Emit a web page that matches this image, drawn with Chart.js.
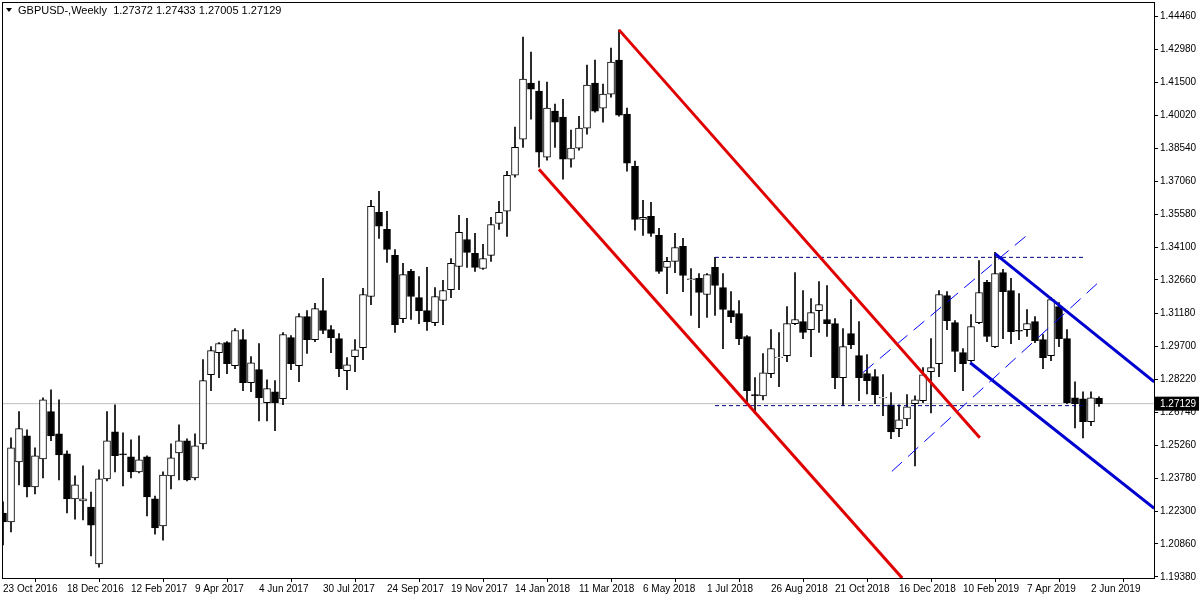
<!DOCTYPE html>
<html>
<head>
<meta charset="utf-8">
<script src="https://cdn.jsdelivr.net/npm/chart.js@4/dist/chart.umd.min.js"></script>
<style>
  html, body { margin:0; padding:0; background:#fff; }
  #wrap { width:1200px; height:600px; position:relative; }
</style>
</head>
<body>
<div id="wrap"><canvas id="c" width="1200" height="600"></canvas></div>
<script>
// ---------- Data (weekly GBPUSD) ----------
const opens = [
  1.2224,1.2184,1.2453,1.2569,1.2341,1.2466,1.2677,1.2578,1.2489,1.2287,
  1.2278,1.2251,1.1996,1.2377,1.2587,1.2489,1.2475,1.2408,1.2475,1.2287,
  1.2166,1.2390,1.2493,1.2547,1.2381,1.2533,1.2842,1.2941,1.2986,1.2883,
  1.2999,1.2807,1.2865,1.2717,1.2766,1.2735,1.3008,1.2883,1.3102,1.2999,
  1.3129,1.3044,1.3004,1.2860,1.2923,1.2963,1.3192,1.3568,1.3492,1.3376,
  1.3093,1.3304,1.3187,1.3129,1.3075,1.3174,1.3223,1.3326,1.3447,1.3385,
  1.3317,1.3376,1.3519,1.3573,1.3734,1.3895,1.4146,1.4110,1.3815,1.4021,
  1.3994,1.3806,1.3855,1.3945,1.4146,1.4034,1.4097,1.4249,1.4007,1.3774,
  1.3537,1.3550,1.3465,1.3322,1.3349,1.3416,1.3268,1.3273,1.3201,1.3322,
  1.3232,1.3129,1.3116,1.3013,1.2753,1.2748,1.2847,1.2919,1.2928,1.3071,
  1.3080,1.3044,1.3129,1.3089,1.3071,1.2829,1.3026,1.2928,1.2847,1.2834,
  1.2739,1.2708,1.2601,1.2645,1.2713,1.2726,1.2856,1.2892,1.3196,1.3075,
  1.2941,1.2905,1.3075,1.3255,1.2968,1.3299,1.3219,1.3040,1.3044,1.3080,
  1.2999,1.2928,1.3147,1.3004,1.2739,1.2735,1.2632,1.27372
];
const highs = [
  1.2274,1.2560,1.2677,1.2596,1.2515,1.2739,1.2775,1.2730,1.2502,1.2390,
  1.2435,1.2318,1.2417,1.2677,1.2708,1.2583,1.2551,1.2569,1.2480,1.2300,
  1.2408,1.2533,1.2618,1.2556,1.2578,1.2910,1.2968,1.2986,1.2990,1.3049,
  1.3044,1.2923,1.2982,1.2820,1.2816,1.3031,1.3017,1.3116,1.3129,1.3161,
  1.3273,1.3062,1.3026,1.2919,1.2999,1.3228,1.3622,1.3662,1.3573,1.3402,
  1.3340,1.3313,1.3281,1.3322,1.3232,1.3264,1.3362,1.3555,1.3541,1.3474,
  1.3425,1.3546,1.3618,1.3752,1.3949,1.4352,1.4285,1.4155,1.4151,1.4052,
  1.4074,1.3936,1.3998,1.4227,1.4249,1.4142,1.4303,1.4384,1.4034,1.3797,
  1.3622,1.3613,1.3497,1.3367,1.3474,1.3452,1.3317,1.3295,1.3295,1.3367,
  1.3295,1.3214,1.3174,1.3017,1.2829,1.2937,1.3044,1.3031,1.3147,1.3299,
  1.3219,1.3183,1.3259,1.3241,1.3093,1.3049,1.3178,1.3080,1.2932,1.2865,
  1.2843,1.2762,1.2708,1.2753,1.2748,1.2874,1.3004,1.3219,1.3214,1.3084,
  1.2959,1.3111,1.3353,1.3264,1.3389,1.3313,1.3273,1.3205,1.3134,1.3102,
  1.3022,1.3187,1.3165,1.3044,1.2811,1.2766,1.2766,1.27433
];
const lows = [
  1.2081,1.2139,1.2350,1.2296,1.2309,1.2381,1.2547,1.2372,1.2224,1.2197,
  1.2193,1.2032,1.1982,1.2368,1.2408,1.2345,1.2381,1.2403,1.2211,1.2130,
  1.2103,1.2332,1.2372,1.2368,1.2372,1.2511,1.2771,1.2829,1.2847,1.2869,
  1.2771,1.2766,1.2636,1.2636,1.2592,1.2708,1.2865,1.2811,1.2937,1.2990,
  1.3026,1.2941,1.2834,1.2775,1.2856,1.2910,1.3156,1.3452,1.3344,1.3031,
  1.3075,1.3089,1.3071,1.3040,1.3062,1.3066,1.3187,1.3223,1.3322,1.3304,
  1.3313,1.3349,1.3492,1.3461,1.3725,1.3859,1.3985,1.3770,1.3801,1.3859,
  1.3716,1.3770,1.3846,1.3918,1.4016,1.3971,1.4083,1.3998,1.3752,1.3488,
  1.3465,1.3461,1.3295,1.3205,1.3299,1.3214,1.3107,1.3053,1.3098,1.3107,
  1.2959,1.3075,1.2977,1.2713,1.2668,1.2730,1.2829,1.2789,1.2901,1.3066,
  1.3004,1.2923,1.3031,1.3013,1.2780,1.2704,1.2959,1.2726,1.2757,1.2713,
  1.2659,1.2556,1.2565,1.2614,1.2435,1.2717,1.2672,1.2834,1.3044,1.2856,
  1.2771,1.2901,1.3071,1.2990,1.2963,1.3004,1.2981,1.2999,1.3013,1.2986,
  1.2869,1.2905,1.2968,1.2713,1.2605,1.2560,1.2614,1.27005
];
const closes = [
  1.2184,1.2515,1.2601,1.2341,1.2480,1.2730,1.2569,1.2484,1.2287,1.2350,
  1.2287,1.2170,1.2377,1.2547,1.2480,1.2484,1.2408,1.2462,1.2296,1.2157,
  1.2394,1.2471,1.2547,1.2372,1.2524,1.2816,1.2950,1.2982,1.2892,1.3040,
  1.2807,1.2896,1.2739,1.2780,1.2717,1.3022,1.2892,1.3102,1.2999,1.3138,
  1.3040,1.3008,1.2869,1.2887,1.2954,1.3201,1.3595,1.3506,1.3402,1.3066,
  1.3290,1.3192,1.3129,1.3080,1.3192,1.3219,1.3340,1.3479,1.3389,1.3322,
  1.3362,1.3514,1.3568,1.3734,1.3859,1.4164,1.4119,1.3837,1.4034,1.3971,
  1.3806,1.3855,1.3945,1.4137,1.4021,1.4097,1.4240,1.4003,1.3788,1.3537,
  1.3546,1.3474,1.3304,1.3349,1.3411,1.3286,1.3270,1.3210,1.3290,1.3241,
  1.3134,1.3102,1.3004,1.2771,1.2748,1.2851,1.2959,1.2921,1.3071,1.3089,
  1.3031,1.3120,1.3156,1.3071,1.2829,1.2968,1.2977,1.2829,1.2816,1.2753,
  1.2741,1.2587,1.2641,1.2699,1.2730,1.2842,1.2874,1.3201,1.3084,1.2946,
  1.2892,1.3058,1.3210,1.3013,1.3295,1.3214,1.3035,1.3038,1.3071,1.2995,
  1.2919,1.3178,1.3004,1.2717,1.2713,1.2632,1.2739,1.27129
];

// x tick labels: every 8th weekly bar starting at bar 0
const dateLabels = ['23 Oct 2016','18 Dec 2016','12 Feb 2017','9 Apr 2017','4 Jun 2017','30 Jul 2017',
  '24 Sep 2017','19 Nov 2017','14 Jan 2018','11 Mar 2018','6 May 2018','1 Jul 2018','26 Aug 2018',
  '21 Oct 2018','16 Dec 2018','10 Feb 2019','7 Apr 2019','2 Jun 2019'];
const LABEL_STEP = 8;
const priceTicks = ['1.44460','1.42980','1.41500','1.40020','1.38540','1.37060','1.35580','1.34100',
  '1.32660','1.31180','1.29700','1.28220','1.26740','1.25260','1.23780','1.22300','1.20860','1.19380'];
const lastPrice = 1.27129;
const titleText = 'GBPUSD-,Weekly  1.27372 1.27433 1.27005 1.27129';

// drawn objects: [barIndex, price] endpoints
const redUpper = [[77, 1.4384], [122.1, 1.2560]];
const redLower = [[67, 1.3761], [112.4, 1.1933]];
const blueUpper = [[124, 1.3384], [143.9, 1.2810]];
const blueLower = [[120.9, 1.2896], [143.9, 1.2245]];
const resistance = [[89, 1.3367], [135, 1.3367]];
const support = [[89, 1.2704], [135, 1.2704]];
const chanA = [[107.5, 1.2852], [128.4, 1.3478]];
const chanB = [[111.1, 1.2410], [136.9, 1.3254]];

const X_MIN = -0.125, X_MAX = 143.875;
const Y_MIN = 1.19335, Y_MAX = 1.45086;
const FONT = '"Liberation Sans", Arial, sans-serif';

// ---------- Build datasets ----------
const idx = closes.map((_, i) => i);
const bodies = idx.map(i => {
  let o = opens[i], c = closes[i];
  if (Math.abs(o - c) < 0.0003) { const m = (o + c) / 2; o = m - 0.00015; c = m + 0.00015; }
  return { x: i, y: [o, c] };
});
const bodyFill = idx.map(i => closes[i] < opens[i] ? '#000' : '#fff');
const wicks = idx.map(i => ({ x: i, y: [lows[i], highs[i]] }));
const seg = (pts) => pts.map(p => ({ x: p[0], y: p[1] }));

function lineDs(pts, color, width, dash, order) {
  return { type:'line', data: seg(pts), borderColor: color, borderWidth: width, borderDash: dash || [],
    pointRadius: 0, fill: false, tension: 0, order };
}

const framePlugin = {
  id: 'frame',
  afterDraw(chart) {
    const { ctx, chartArea: a, scales } = chart;
    ctx.save();
    ctx.strokeStyle = '#000'; ctx.lineWidth = 1;
    ctx.strokeRect(a.left + 0.5, a.top + 0.5, a.right - a.left, a.bottom - a.top);
    // title
    ctx.font = '11px ' + FONT; ctx.fillStyle = '#000'; ctx.textBaseline = 'middle';
    ctx.beginPath(); ctx.moveTo(6, 8); ctx.lineTo(12, 8); ctx.lineTo(9, 12); ctx.closePath(); ctx.fill();
    ctx.fillText(titleText, 18, 11);
    // last price box
    const y = scales.y.getPixelForValue(lastPrice);
    ctx.fillStyle = '#000';
    ctx.fillRect(a.right + 1, y - 7, 44, 14);
    ctx.fillStyle = '#fff'; ctx.textAlign = 'left'; ctx.font = '10px ' + FONT;
    ctx.fillText(lastPrice.toFixed(5), a.right + 6, y + 1);
    ctx.restore();
  }
};

new Chart(document.getElementById('c'), {
  type: 'bar',
  data: {
    datasets: [
      lineDs(redUpper, '#e00000', 3, null, -1),
      lineDs(redLower, '#e00000', 3, null, -1),
      lineDs(blueUpper, '#0000d0', 3, null, -1),
      lineDs(blueLower, '#0000d0', 3, null, -1),
      lineDs(resistance, '#000080', 1, [4, 3], -1),
      lineDs(support, '#000080', 1, [4, 3], -1),
      lineDs(chanA, '#0000ff', 1, [14, 8], -1),
      lineDs(chanB, '#0000ff', 1, [14, 8], -1),
      { type:'bar', data: bodies, backgroundColor: bodyFill, borderColor: '#000', borderWidth: 1,
        borderSkipped: false, barThickness: 7, grouped: false, order: 0 },
      { type:'bar', data: wicks, backgroundColor: '#000', borderWidth: 0,
        barThickness: 1, grouped: false, order: 1 },
      lineDs([[X_MIN, lastPrice], [X_MAX, lastPrice]], '#c0c0c0', 1, null, 5)
    ]
  },
  options: {
    responsive: false,
    animation: false,
    layout: { padding: { left: 2, top: 2, right: 0, bottom: 0 } },
    plugins: { legend: { display: false }, tooltip: { enabled: false } },
    scales: {
      x: {
        type: 'linear', min: X_MIN, max: X_MAX, offset: false,
        grid: { drawOnChartArea: false, color: '#000', tickLength: 4 },
        border: { color: '#000' },
        afterBuildTicks: s => { s.ticks = dateLabels.map((_, k) => ({ value: k * LABEL_STEP })); },
        afterFit: s => { s.height = 22; s.paddingLeft = 0; s.paddingRight = 0; },
        ticks: { autoSkip: false, maxRotation: 0, align: 'start', padding: 1, color: '#000',
          font: { family: FONT, size: 10 }, callback: v => dateLabels[Math.round(v / LABEL_STEP)] }
      },
      y: {
        position: 'right', min: Y_MIN, max: Y_MAX,
        grid: { drawOnChartArea: false, color: '#000', tickLength: 4 },
        border: { color: '#000' },
        afterBuildTicks: s => { s.ticks = priceTicks.map(t => ({ value: parseFloat(t) })); },
        afterFit: s => { s.width = 46; s.paddingTop = 0; s.paddingBottom = 0; },
        ticks: { autoSkip: false, padding: 2, color: '#000', font: { family: FONT, size: 10 },
          callback: v => v.toFixed(5) }
      }
    }
  },
  plugins: [framePlugin]
});
</script>
</body>
</html>
